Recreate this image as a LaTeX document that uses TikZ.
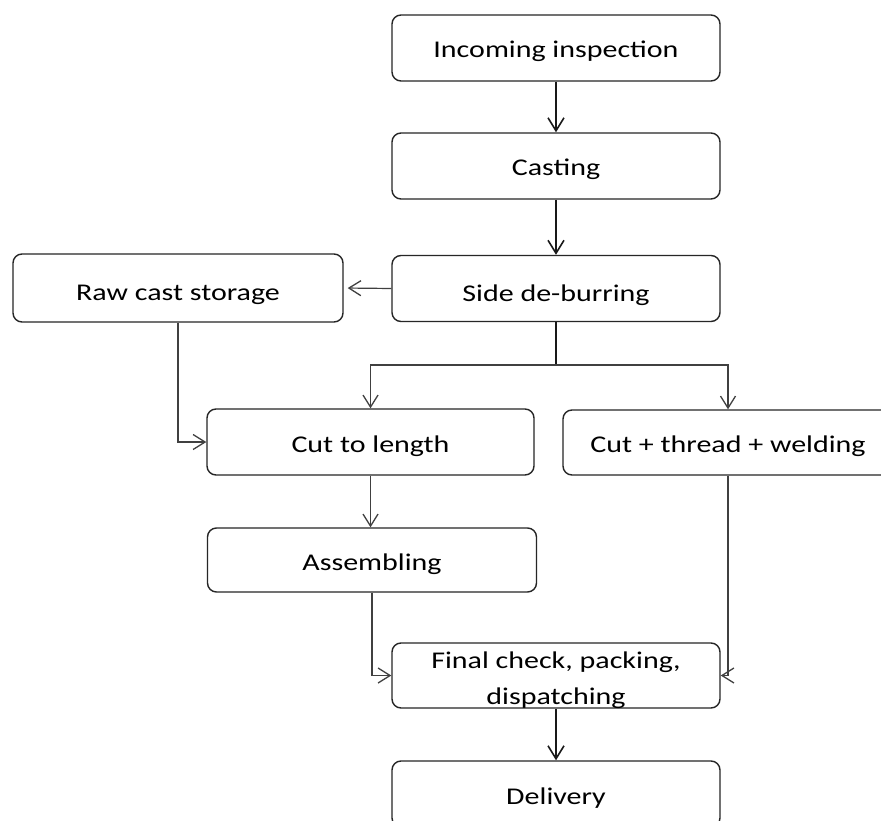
\documentclass[tikz,border=0pt]{standalone}
\usepackage{fontspec}
\setmainfont{Carlito}[FakeStretch=1.25]
\usetikzlibrary{arrows.meta}
\begin{document}
\begin{tikzpicture}[x=1pt,y=-1pt,
  box/.style={draw=black!85, line width=1.4pt, rounded corners=9pt,
    minimum width=328pt, minimum height=66pt, inner sep=0pt,
    font=\fontsize{24}{29}\selectfont, text height=20pt, text depth=0pt},
  txt/.style={font=\fontsize{24}{29}\selectfont, inner sep=0pt},
  heavy/.style={draw=black!90, line width=2.2pt,
    -{Straight Barb[length=13pt,width=16pt,line width=1.6pt]}},
  light/.style={draw=black!75, line width=1.2pt,
    -{Straight Barb[length=12pt,width=15pt,line width=1.3pt]}},
  trunk/.style={draw=black!90, line width=2.2pt}]
\useasboundingbox (0,0) rectangle (881,821);
\clip (0,0) rectangle (881,821);
\fill[white] (0,0) rectangle (881,821);

\node[box] (inc) at (556,48) {Incoming inspection};
\node[box] (cast) at (556,166) {Casting};
\node[box, text height=25pt] (deb) at (556,288.5) {Side de-burring};
\node[box, minimum width=330pt, minimum height=68pt, text height=24pt] (raw) at (178,288) {Raw cast storage};
\node[box, minimum width=327pt] (cut) at (370.5,442) {Cut to length};
\node[box, minimum width=330pt, minimum height=65pt] (ctw) at (728,442.5) {Cut + thread + welding};
\node[box, minimum width=329pt, minimum height=64pt] (asm) at (372,560) {Assembling};
\node[box, minimum height=65pt] (fin) at (556,675.5) {};
\node[txt, anchor=base] (fin1) at (556,668) {Final check, packing,};
\node[txt, anchor=base] (fin2) at (556,704) {dispatching};
\node[box] (del) at (556,794) {Delivery};

\coordinate (split) at (556,365);

\draw[heavy] (inc) -- (cast);
\draw[heavy] (cast) -- (deb);
\draw[light, shorten >=4pt] (deb.west) -- (raw.east);
\draw[trunk] (deb.south) -- (split);
\draw[light] (split) -| (cut.north);
\draw[light] (split) -| (ctw.north);
\draw[light] (raw.south) |- (cut.west);
\draw[light] (cut.south) -- (cut.south |- asm.north);
\draw[light] (asm.south) |- (fin.west);
\draw[light] (ctw.south) |- (fin.east);
\draw[heavy] (fin) -- (del);
\end{tikzpicture}
\end{document}
